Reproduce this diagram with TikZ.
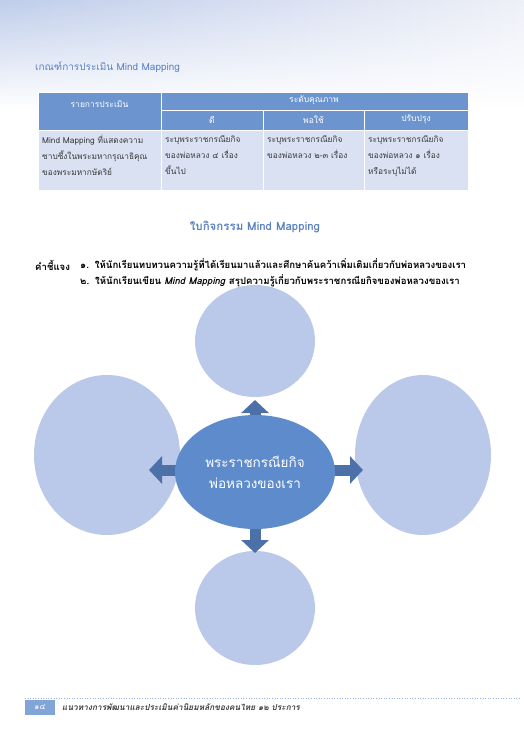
\documentclass[tikz,border=0pt]{standalone}
\usepackage{fontspec}
\setmainfont[Script=Thai]{Loma}
\newfontfamily\thaiit[Script=Thai,FakeSlant=0.2]{Loma}
\usetikzlibrary{arrows.meta,shapes.geometric,fadings}
\definecolor{hdr}{HTML}{6C95D0}
\definecolor{cellbg}{HTML}{D9E1F2}
\definecolor{titleblue}{HTML}{5B82C2}
\definecolor{outerfill}{HTML}{BAC9E9}
\definecolor{centerfill}{HTML}{5E8BCB}
\definecolor{arrowblue}{HTML}{4C70A8}
\definecolor{txtgray}{HTML}{3A3A3A}
\definecolor{bgleft}{HTML}{BFCDEA}
\definecolor{bgright}{HTML}{EEF0F8}
\tikzset{
  hcell/.style={fill=hdr, draw=white, line width=0.8pt},
  bcell/.style={fill=cellbg, draw=white, line width=0.8pt},
  htext/.style={text=white, font=\fontsize{8.5}{10}\selectfont, inner sep=0pt},
  btext/.style={text=txtgray, font=\fontsize{8.3}{16}\selectfont, anchor=north west, align=left, inner sep=0pt},
  outerell/.style={ellipse, fill=outerfill, draw=none, inner sep=0pt},
  blockarrow/.style={arrowblue, line width=11pt, -{Triangle[width=27pt,length=13pt]}},
  instr/.style={anchor=west, font=\bfseries\fontsize{9.6}{11}\selectfont, inner sep=0pt},
}
\begin{document}
\begin{tikzpicture}[x=1pt,y=-1pt]
\useasboundingbox (0,0) rectangle (524,737);
% top gradient
\shade[left color=bgleft, right color=bgright, path fading=south] (0,0) rectangle (524,110);
% title
\node[anchor=west, text=titleblue, font=\fontsize{10}{11}\selectfont, inner sep=0pt] (title) at (35,67) {เกณฑ์การประเมิน Mind Mapping};
% table header
\fill[hcell] (38,92) rectangle (161,130);
\fill[hcell] (161,92) rectangle (468,110);
\fill[hcell] (161,110) rectangle (263,130);
\fill[hcell] (263,110) rectangle (364,130);
\fill[hcell] (364,110) rectangle (468,130);
\draw[white, line width=0.8pt] (161,92) -- (161,130) (161,110) -- (468,110) (263,110) -- (263,190) (364,110) -- (364,190);
\node[htext] (h1) at (99.5,104) {รายการประเมิน};
\node[htext] (h2) at (314,100) {ระดับคุณภาพ};
\node[htext] (h3) at (212,119.5) {ดี};
\node[htext] (h4) at (313.5,119.5) {พอใช้};
\node[htext] (h5) at (416,119.5) {ปรับปรุง};
% body
\fill[bcell] (38,130) rectangle (161,190);
\fill[bcell] (161,130) rectangle (263,190);
\fill[bcell] (263,130) rectangle (364,190);
\fill[bcell] (364,130) rectangle (468,190);
\draw[white, line width=0.8pt] (38,130) -- (468,130) (161,130) -- (161,190) (263,130) -- (263,190) (364,130) -- (364,190);
\node[btext] (b1) at (42,135) {Mind Mapping ที่แสดงความ\\ซาบซึ้งในพระมหากรุณาธิคุณ\\ของพระมหากษัตริย์};
\node[btext] (b2) at (165,135) {ระบุพระราชกรณียกิจ\\ของพ่อหลวง ๔ เรื่อง\\ขึ้นไป};
\node[btext] (b3) at (267,135) {ระบุพระราชกรณียกิจ\\ของพ่อหลวง ๒-๓ เรื่อง};
\node[btext] (b4) at (368,135) {ระบุพระราชกรณียกิจ\\ของพ่อหลวง ๑ เรื่อง\\หรือระบุไม่ได้};
% activity title
\node[text=titleblue, font=\bfseries\fontsize{11.5}{13}\selectfont, inner sep=0pt] (act) at (255,227) {ใบกิจกรรม Mind Mapping};
% instructions
\node[instr] (kc) at (35,265) {คำชี้แจง};
\node[instr] (i1) at (80,265) {๑.\hspace{6pt}ให้นักเรียนทบทวนความรู้ที่ได้เรียนมาแล้วและศึกษาค้นคว้าเพิ่มเติมเกี่ยวกับพ่อหลวงของเรา};
\node[instr] (i2) at (80,281) {๒.\hspace{6pt}ให้นักเรียนเขียน \textit{Mind Mapping} สรุปความรู้เกี่ยวกับพระราชกรณียกิจของพ่อหลวงของเรา};
% outer ellipses
\node[outerell, minimum width=120pt, minimum height=112pt] (top) at (255,341) {};
\node[outerell, minimum width=146pt, minimum height=160pt] (left) at (107,455) {};
\node[outerell, minimum width=136pt, minimum height=160pt] (right) at (423,455) {};
\node[outerell, minimum width=120pt, minimum height=114pt] (bottom) at (255,608) {};
% connectors
\coordinate (ctr) at (255,472);
\coordinate (tipT) at (255,400);
\coordinate (tipL) at (149,470);
\coordinate (tipR) at (363,470);
\coordinate (tipB) at (255,553);
\draw[blockarrow] (ctr) -- (tipT);
\draw[blockarrow] (ctr) -- (tipB);
\draw[blockarrow] (255,470) -- (tipL);
\draw[blockarrow] (255,470) -- (tipR);
% centre
\node[ellipse, fill=centerfill, inner sep=0pt, minimum width=160pt, minimum height=114pt, text=white, align=center, font=\fontsize{13.5}{21}\selectfont] (c) at (255,472) {พระราชกรณียกิจ\\พ่อหลวงของเรา};
% footer
\draw[titleblue!60, dotted, line width=0.6pt] (25,698) -- (520,698);
\node[fill=hdr!85, text=white, minimum width=30pt, minimum height=15pt, inner sep=0pt, font=\fontsize{8}{9}\selectfont] (pg) at (40,707) {๑๔};
\node[anchor=west, text=txtgray, font=\thaiit\bfseries\fontsize{8.3}{9}\selectfont, inner sep=0pt] (ft) at (62,707) {แนวทางการพัฒนาและประเมินค่านิยมหลักของคนไทย ๑๒ ประการ};
\end{tikzpicture}
\end{document}
